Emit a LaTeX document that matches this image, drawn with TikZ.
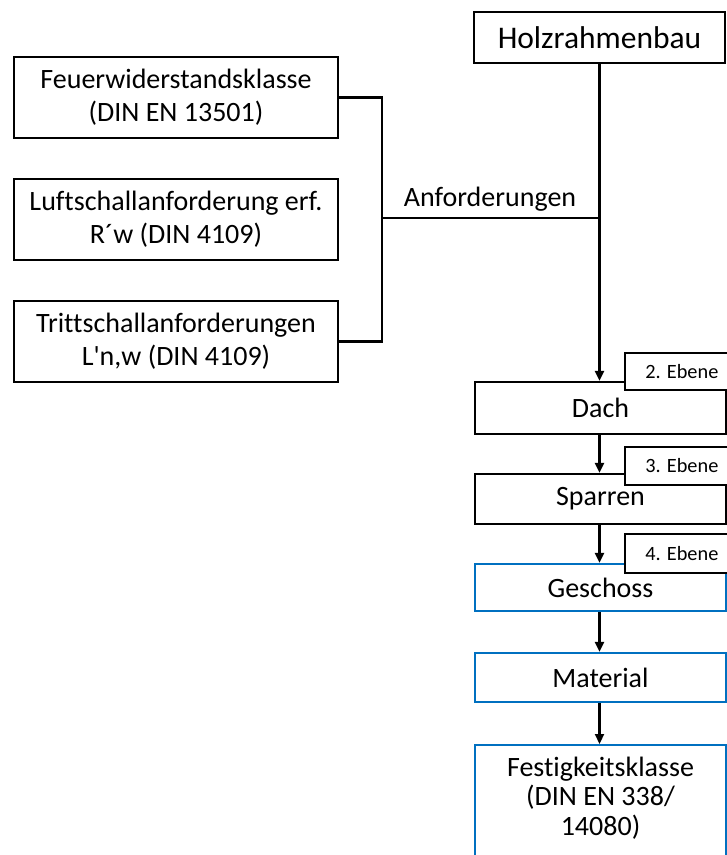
\documentclass[tikz,border=0pt]{standalone}
\usepackage{fontspec}
\setmainfont{Carlito}[Ligatures={TeXOff,CommonOff}]
\usetikzlibrary{arrows.meta}
\definecolor{boxblue}{RGB}{0,112,192}
\begin{document}
\begin{tikzpicture}[x=1pt,y=-1pt,
  box/.style={draw=black, line width=2.2pt, fill=white, inner sep=0pt, align=center, font=\fontsize{28}{33}\selectfont},
  bluebox/.style={box, draw=boxblue},
  ebenebox/.style={draw=black, line width=1.8pt, fill=white, anchor=north west, inner sep=0pt, font=\fontsize{20.3}{22}\selectfont},
  conn/.style={line width=2.2pt},
  arr/.style={conn, -{Triangle[length=10pt,width=9pt]}}]
\useasboundingbox (0,0) rectangle (727,855);
\clip (0,0) rectangle (727,855);
% top node
\node[box, font=\fontsize{31.5}{36}\selectfont, minimum width=251pt, minimum height=51pt] (holz) at (599.5,37.5) {Holzrahmenbau};
% left requirement boxes
\node[box, minimum width=324pt, minimum height=81pt] (feuer) at (176,97.5) {Feuerwiderstandsklasse\\(DIN EN 13501)};
\node[box, minimum width=324pt, minimum height=81pt] (luft) at (176,219.5) {Luftschallanforderung erf.\\R´w (DIN 4109)};
\node[box, minimum width=324pt, minimum height=81pt] (tritt) at (176,341.5) {Trittschallanforderungen\\L'n,w (DIN 4109)};
% right chain
\node[box, minimum width=251pt, minimum height=52pt] (dach) at (600.5,408) {Dach};
\node[box, minimum width=251pt, minimum height=50pt] (sparren) at (600.5,499) {Sparren};
\node[bluebox, minimum width=251pt, minimum height=47pt] (geschoss) at (600.5,587.5) {Geschoss};
\node[bluebox, minimum width=251pt, minimum height=49pt] (material) at (600.5,677.5) {Material};
\node[bluebox, anchor=north, minimum width=251pt, minimum height=140pt] (fest) at (600.5,744) {};
\node[align=center, inner sep=0pt, font=\fontsize{28}{29.5}\selectfont] (festtxt) at (600.5,798) {Festigkeitsklasse\\(DIN EN 338/\\14080)};
% level tags
\node[ebenebox, minimum width=114pt, minimum height=37pt] (e2) at (624,352) {2. Ebene};
\node[ebenebox, minimum width=114pt, minimum height=38pt] (e3) at (624,446) {3. Ebene};
\node[ebenebox, minimum width=114pt, minimum height=39pt] (e4) at (624,533) {4. Ebene};
% connectors
\draw[conn] (feuer.east) -- ++(43,0) |- (tritt.east);
\coordinate (janf) at (381,218);
\draw[conn] (janf) -- (janf -| holz.south);
\node[inner sep=0pt, anchor=base, font=\fontsize{28}{30}\selectfont] (anf) at (490,206) {Anforderungen};
\draw[arr] (holz.south) -- (holz.south |- dach.north);
\draw[arr] (holz.south |- dach.south) -- (holz.south |- sparren.north);
\draw[arr] (holz.south |- sparren.south) -- (holz.south |- geschoss.north);
\draw[arr] (holz.south |- geschoss.south) -- (holz.south |- material.north);
\draw[arr] (holz.south |- material.south) -- (holz.south |- fest.north);
\end{tikzpicture}
\end{document}
